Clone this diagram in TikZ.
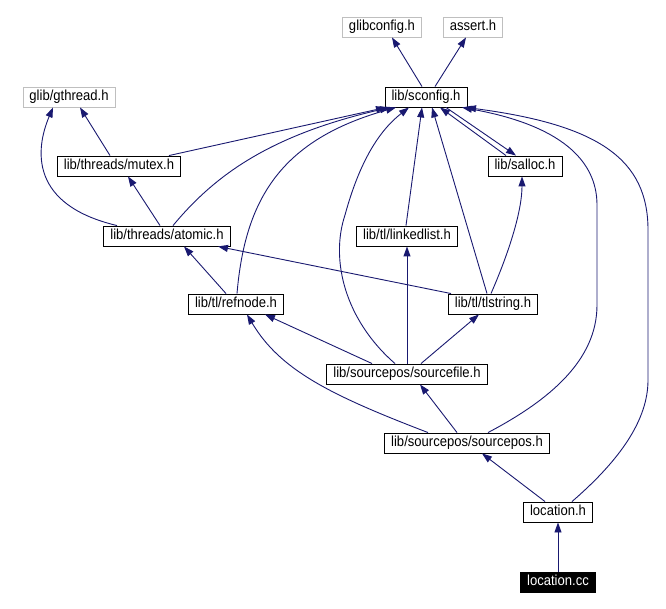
\documentclass[tikz,border=0pt]{standalone}
\usepackage{fontspec}
\setmainfont[FakeStretch=0.9]{Liberation Sans}
\usetikzlibrary{calc,arrows.meta}
\definecolor{navy}{RGB}{25,25,112}

\begin{document}
\begin{tikzpicture}[x=1pt, y=-1pt,
  file/.style={draw, line width=0.9pt, font=\fontsize{14.5}{16}\selectfont, inner xsep=6.5pt, inner ysep=0pt, minimum height=20pt, text height=10.5pt, text depth=3pt},
  sys/.style={file, draw=gray!50},
  top/.style={file, fill=black, text=white},
  inc/.style={draw=navy, line width=0.9pt, -{Triangle[length=10pt,width=7pt]}}]
\useasboundingbox (0,0) rectangle (666,609);

%files
\node[sys] (glibconfig) at (382,27) {glibconfig.h};
\node[sys] (assert) at (473,27) {assert.h};
\node[file] (sconfig) at (426,97) {lib/sconfig.h};
\node[sys] (gthread) at (69,97) {glib/gthread.h};
\node[file] (mutex) at (119,166) {lib/threads/mutex.h};
\node[file] (salloc) at (525,166) {lib/salloc.h};
\node[file] (atomic) at (167,236) {lib/threads/atomic.h};
\node[file] (linkedlist) at (407,236) {lib/tl/linkedlist.h};
\node[file] (refnode) at (236,304) {lib/tl/refnode.h};
\node[file] (tlstring) at (493,304) {lib/tl/tlstring.h};
\node[file] (sourcefile) at (407,374) {lib/sourcepos/sourcefile.h};
\node[file] (sourcepos) at (467,443) {lib/sourcepos/sourcepos.h};
\node[file] (locationh) at (558,512) {location.h};
\node[top] (locationcc) at (558,582) {location.cc};

%includes
\draw[inc] ([xshift=-4pt]sconfig.north) -- ([xshift=10pt]glibconfig.south);
\draw[inc] ([xshift=9pt]sconfig.north) -- ([xshift=-7pt]assert.south);
\draw[inc] ([xshift=-9pt]mutex.north) -- ([xshift=11pt]gthread.south);
\draw[inc] ([xshift=50pt]mutex.north) -- ([xshift=-40pt]sconfig.south);
\draw[inc] ([xshift=-50pt]atomic.north) .. controls (30,205) and (35,150) .. ([xshift=-16pt]gthread.south);
\draw[inc] ([xshift=-7pt]atomic.north) -- ([xshift=9pt]mutex.south);
\draw[inc] ([xshift=6pt]atomic.north) .. controls (215,175) and (270,135) .. ([xshift=-36pt]sconfig.south);
\draw[inc] ([xshift=-10pt]refnode.north) -- ([xshift=17pt]atomic.south);
\draw[inc] ([xshift=1pt]refnode.north) .. controls (245,200) and (280,140) .. ([xshift=-30pt]sconfig.south);
\draw[inc] ([xshift=-1pt]linkedlist.north) -- ([xshift=-4pt]sconfig.south);
\draw[inc] ([xshift=-6pt]tlstring.north) -- ([xshift=6pt]sconfig.south);
\draw[inc] ([xshift=-2pt]tlstring.north) .. controls (510,250) and (522,210) .. ([xshift=-3pt]salloc.south);
\draw[inc] ([xshift=-42pt]tlstring.north) -- ([xshift=51pt]atomic.south);
\draw[inc] ([xshift=20pt]sconfig.south) -- ([xshift=-9pt]salloc.north);
\draw[inc] ([xshift=-19pt]salloc.north) -- ([xshift=14pt]sconfig.south);
\draw[inc] ([xshift=-12pt]sourcefile.north) .. controls (345,320) and (330,260) .. (345,215) .. controls (360,160) and (380,130) .. ([xshift=-17pt]sconfig.south);
\draw[inc] (sourcefile.north) -- (linkedlist.south);
\draw[inc] ([xshift=-35pt]sourcefile.north) -- ([xshift=29pt]refnode.south);
\draw[inc] ([xshift=14pt]sourcefile.north) -- ([xshift=-14pt]tlstring.south);
\draw[inc] ([xshift=-10pt]sourcepos.north) -- ([xshift=13pt]sourcefile.south);
\draw[inc] ([xshift=-39pt]sourcepos.north) .. controls (330,395) and (280,370) .. ([xshift=11pt]refnode.south);
\draw[inc] ([xshift=21pt]sourcepos.north) .. controls (550,400) and (597,360) .. (597,305) -- (597,205) .. controls (597,160) and (560,125) .. ([xshift=36pt]sconfig.south);
\draw[inc] ([xshift=-13pt]locationh.north) -- ([xshift=15pt]sourcepos.south);
\draw[inc] ([xshift=14pt]locationh.north) .. controls (620,460) and (648,420) .. (648,380) -- (648,230) .. controls (648,160) and (600,125) .. ([xshift=40pt]sconfig.south);
\draw[inc] (locationcc) -- (locationh);
\end{tikzpicture}
\end{document}
